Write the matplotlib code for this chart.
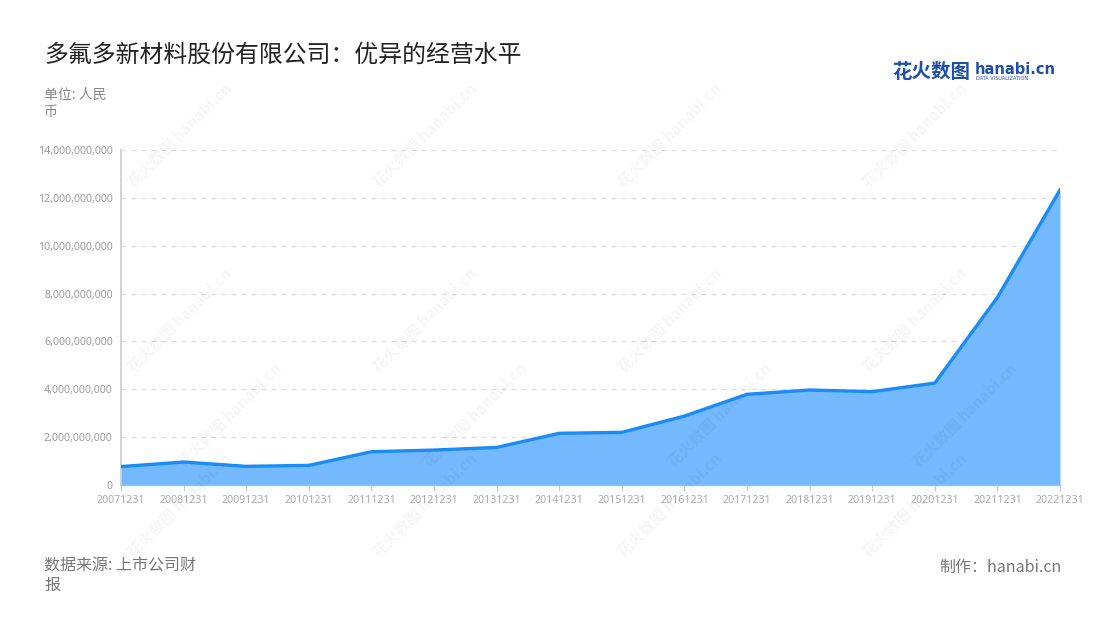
import matplotlib
matplotlib.use("Agg")
import matplotlib.pyplot as plt
from matplotlib.ticker import FuncFormatter

plt.rcParams['font.family'] = ['Noto Sans CJK SC', 'DejaVu Sans']

categories = ["20071231", "20081231", "20091231", "20101231", "20111231", "20121231",
              "20131231", "20141231", "20151231", "20161231", "20171231", "20181231",
              "20191231", "20201231", "20211231", "20221231"]
revenue = [0.77e9, 0.96e9, 0.78e9, 0.82e9, 1.39e9, 1.46e9, 1.57e9, 2.16e9,
           2.20e9, 2.88e9, 3.79e9, 3.97e9, 3.90e9, 4.26e9, 7.84e9, 12.33e9]
yticks = [0, 2e9, 4e9, 6e9, 8e9, 10e9, 12e9, 14e9]

title = "多氟多新材料股份有限公司：优异的经营水平"
unit = "单位: 人民\n币"
source = "数据来源: 上市公司财\n报"
maker = "制作：hanabi.cn"

W, H = 1100, 620
fig = plt.figure(figsize=(W / 100, H / 100), dpi=100)
ax = fig.add_axes([121 / W, 1 - 485 / H, (1060 - 121) / W, (485 - 150) / H])

x = list(range(len(categories)))
ax.fill_between(x, revenue, 0, color="#74b9fd", linewidth=0, zorder=2)
ax.plot(x, revenue, color="#1a8cf7", linewidth=2.4, zorder=3, solid_joinstyle="round")

ax.set_xlim(0, len(categories) - 1)
ax.set_ylim(0, 14e9)
ax.set_yticks(yticks)
ax.yaxis.set_major_formatter(FuncFormatter(lambda v, p: f"{int(v):,}"))
ax.set_xticks(x)
ax.set_xticklabels(categories)

ax.grid(axis="y", color="#dddddd", linestyle=(0, (4, 4)), linewidth=0.9, zorder=1)
for s in ["top", "right"]:
    ax.spines[s].set_visible(False)
ax.spines["left"].set_color("#cccccc")
ax.spines["left"].set_linewidth(1.2)
ax.spines["bottom"].set_color("#8fc5fb")
ax.spines["bottom"].set_linewidth(1.0)
ax.tick_params(axis="y", length=0, labelsize=7.6, labelcolor="#999999", pad=6)
ax.tick_params(axis="x", length=4, color="#cccccc", labelsize=7.6, labelcolor="#aaaaaa", pad=3)
for lab in ax.get_yticklabels() + ax.get_xticklabels():
    lab.set_family(['Noto Sans', 'DejaVu Sans'])

# watermarks
for wx in [125, 370, 615, 860]:
    for wy in [185, 370, 460, 555]:
        pass
wm_pos = [(wx, wy) for wx in [125, 370, 615, 860] for wy in [190, 375, 560]] + \
         [(wx + 50, 470) for wx in [125, 370, 615, 860]]
for wx, wy in wm_pos:
    fig.text(wx / W, 1 - wy / H, "花火数图 hanabi.cn", rotation=45,
             fontsize=11, color="#000000", alpha=0.04, ha="left", va="bottom",
             fontweight="bold")

fig.text(44 / W, 1 - 55 / H, title, fontsize=17.2, color="#222222", ha="left", va="center")
fig.text(44 / W, 1 - 88 / H, unit, fontsize=10, color="#888888", ha="left", va="top",
         linespacing=1.25)
fig.text(44 / W, 1 - 557 / H, source, fontsize=11.5, color="#777777", ha="left", va="top",
         linespacing=1.25)
fig.text(1062 / W, 1 - 567 / H, maker, fontsize=11.5, color="#777777", ha="right", va="center")

# logo
fig.text(892 / W, 1 - 72 / H, "花火数图", fontsize=14, color="#1f4fa8", ha="left",
         va="center", fontweight="bold")
fig.text(975 / W, 1 - 69 / H, "hanabi.cn", fontsize=10.5, color="#1f4fa8", ha="left",
         va="center", fontweight="bold", family=['DejaVu Sans'])
fig.text(976 / W, 1 - 79 / H, "DATA VISUALIZATION", fontsize=3.6, color="#1f4fa8",
         ha="left", va="center", family=['DejaVu Sans'])

fig.savefig("out.png", dpi=100, facecolor="white")
